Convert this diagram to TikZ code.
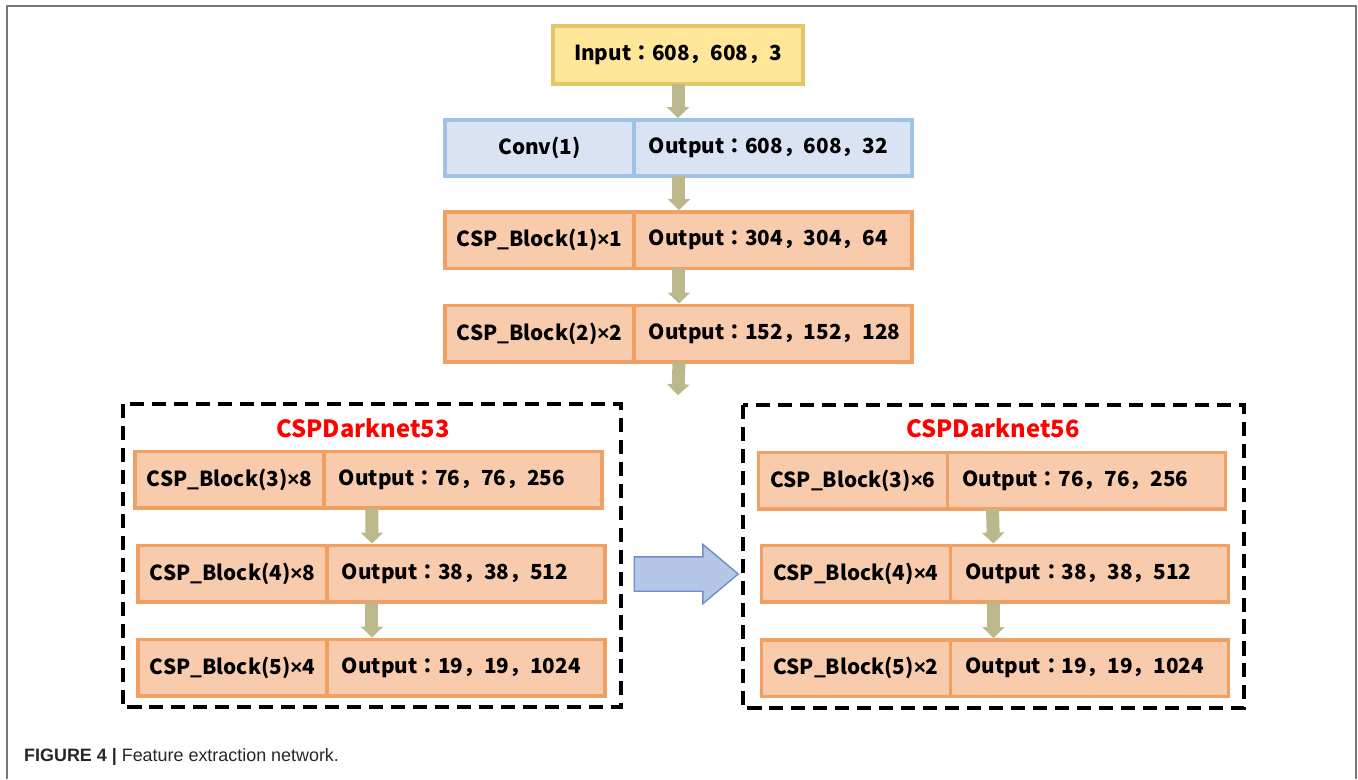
\documentclass[tikz,border=0pt]{standalone}
\usepackage{fontspec}
\setmainfont{Liberation Sans}
\newfontfamily\cjk{Noto Sans CJK JP}
\newcommand\tms{{\rmfamily ×}}
\usetikzlibrary{arrows.meta,shapes.arrows,positioning}
\definecolor{inyellow}{RGB}{255,230,153}
\definecolor{inyellowline}{RGB}{228,198,104}
\definecolor{convblue}{RGB}{218,227,243}
\definecolor{convblueline}{RGB}{157,195,230}
\definecolor{cspfill}{RGB}{248,203,173}
\definecolor{cspline}{RGB}{240,160,98}
\definecolor{flowcol}{RGB}{189,183,140}
\definecolor{bigblue}{RGB}{180,199,231}
\definecolor{bigblueline}{RGB}{111,142,200}
\definecolor{framegray}{RGB}{120,120,120}

\begin{document}
\begin{tikzpicture}[x=0.02cm,y=-0.02cm,
	cell/.style={draw, line width=2pt, inner sep=0pt, outer sep=0pt, minimum height=1.13cm, font=\cjk\bfseries\fontsize{11.8}{14}\selectfont},
	namecell/.style={cell, minimum width=3.78cm},
	outcell/.style={cell, inner xsep=0.3cm, text width=4.96cm, align=left},
	csp/.style={fill=cspfill, draw=cspline},
	conv/.style={fill=convblue, draw=convblueline},
	flow/.style={-{Triangle[width=0.44cm,length=0.22cm]}, line width=0.26cm, draw=flowcol, shorten >=1pt},
	dashbox/.style={dash pattern=on 8pt off 4.5pt, line width=2pt},
	title/.style={red, font=\cjk\bfseries\fontsize{13.5}{15}\selectfont}]

	\useasboundingbox (0,0) rectangle (1358,779);
	\draw [framegray, line width=1.1pt] (7,779) -- (7,6) -- (1356,6) -- (1356,779);

	\node (inp) [cell, fill=inyellow, draw=inyellowline, minimum width=5cm, minimum height=1.16cm] at (678,55) {Input：608，608，3};
	\node (conva) [namecell, conv] at (539.5,148) {Conv(1)};
	\node (convb) [outcell, conv, right=0pt of conva] {Output：608，608，32};
	\node (c1a) [namecell, csp] at (539.5,240) {CSP\_Block(1)\tms1};
	\node (c1b) [outcell, csp, right=0pt of c1a] {Output：304，304，64};
	\node (c2a) [namecell, csp] at (539.5,333.5) {CSP\_Block(2)\tms2};
	\node (c2b) [outcell, csp, right=0pt of c2a] {Output：152，152，128};
	\coordinate (c2end) at (678,397);

	\draw [flow] (inp.south) -- (inp.south |- conva.north);
	\draw [flow] ([xshift=0.9cm]conva.south east) -- ([xshift=0.9cm]c1a.north east);
	\draw [flow] ([xshift=0.9cm]c1a.south east) -- ([xshift=0.9cm]c2a.north east);
	\draw [flow] ([xshift=0.9cm]c2a.south east) -- (c2end);

	% CSPDarknet53
	\draw [dashbox] (123,404) rectangle (621,707);
	\node (t53) [title] at (363,428) {CSPDarknet53};
	\node (l1a) [namecell, csp] at (229.5,479.5) {CSP\_Block(3)\tms8};
	\node (l1b) [outcell, csp, right=0pt of l1a] {Output：76，76，256};
	\node (l2a) [namecell, csp] at (232.5,573.5) {CSP\_Block(4)\tms8};
	\node (l2b) [outcell, csp, right=0pt of l2a] {Output：38，38，512};
	\node (l3a) [namecell, csp] at (232.5,667.5) {CSP\_Block(5)\tms4};
	\node (l3b) [outcell, csp, right=0pt of l3a] {Output：19，19，1024};

	\draw [flow] ([xshift=0.96cm]l1a.south east) -- ([xshift=0.9cm]l2a.north east);
	\draw [flow] ([xshift=0.9cm]l2a.south east) -- ([xshift=0.9cm]l3a.north east);

	% CSPDarknet56
	\draw [dashbox] (743,405) rectangle (1244,708);
	\node (t56) [title] at (993,428) {CSPDarknet56};
	\node (r1a) [namecell, csp] at (853,480.5) {CSP\_Block(3)\tms6};
	\node (r1b) [outcell, csp, right=0pt of r1a] {Output：76，76，256};
	\node (r2a) [namecell, csp] at (856,573.5) {CSP\_Block(4)\tms4};
	\node (r2b) [outcell, csp, right=0pt of r2a] {Output：38，38，512};
	\node (r3a) [namecell, csp] at (856,668) {CSP\_Block(5)\tms2};
	\node (r3b) [outcell, csp, right=0pt of r3a] {Output：19，19，1024};

	\draw [flow] ([xshift=0.9cm]r1a.south east) -- ([xshift=0.86cm]r2a.north east);
	\draw [flow] ([xshift=0.86cm]r2a.south east) -- ([xshift=0.86cm]r3a.north east);

	\node (shift) [single arrow, draw=bigblueline, fill=bigblue, line width=0.8pt, minimum height=2.08cm, inner ysep=0.33cm, inner xsep=0pt, single arrow head extend=0.25cm, single arrow tip angle=80] at (676,574) {};

	\node (cap) [anchor=west, font=\fontsize{10.2}{12}\selectfont, text=black!85] at (18,757) {\textbf{FIGURE 4 |} Feature extraction network.};

\end{tikzpicture}
\end{document}
